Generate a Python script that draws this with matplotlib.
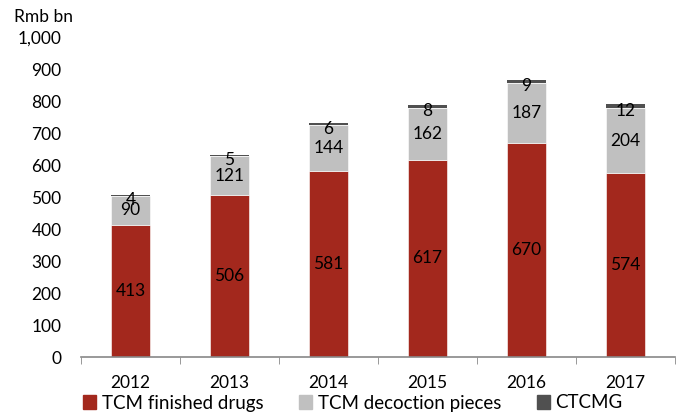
import numpy as np
import matplotlib
matplotlib.use("Agg")
import matplotlib.pyplot as plt
from matplotlib.patches import Patch

plt.rcParams['font.family'] = ['Lato', 'DejaVu Sans']

years = ['2012', '2013', '2014', '2015', '2016', '2017']
finished = [413, 506, 581, 617, 670, 574]
decoction = [90, 121, 144, 162, 187, 204]
ctcmg = [4, 5, 6, 8, 9, 12]
series_names = ['TCM finished drugs', 'TCM decoction pieces', 'CTCMG']
colors = ['#A3281D', '#C0C0C0', '#505050']

fig = plt.figure(figsize=(6.83, 4.16), dpi=100)
ax = fig.add_axes([81 / 683, 59 / 416, 594 / 683, 320 / 416])

x = np.arange(len(years))
w = 0.385
fin = np.array(finished)
dec = np.array(decoction)
ct = np.array(ctcmg)

ax.bar(x, fin, w, color=colors[0], edgecolor='white', linewidth=0.4)
ax.bar(x, dec, w, bottom=fin, color=colors[1], edgecolor='white', linewidth=0.4)
ax.bar(x, ct, w, bottom=fin + dec, color=colors[2], linewidth=0)

fs = 12.5
for i in range(len(years)):
    ax.text(x[i], fin[i] / 2, str(fin[i]), ha='center', va='center', fontsize=fs)
    ax.text(x[i], fin[i] + dec[i] / 2, str(dec[i]), ha='center', va='center', fontsize=fs)
    ax.text(x[i], fin[i] + dec[i] + ct[i] / 2 - 14, str(ct[i]), ha='center',
            va='center', fontsize=fs)

ax.set_xlim(-0.5, len(years) - 0.5)
ax.set_ylim(0, 1000)
ax.set_yticks(np.arange(0, 1001, 100))
ax.set_yticklabels([f'{v:,}' for v in range(0, 1001, 100)], fontsize=fs)
ax.set_xticks(x)
ax.set_xticklabels(years, fontsize=fs)
ax.set_xticks(np.arange(-0.5, len(years), 1), minor=True)
ax.tick_params(axis='x', which='major', length=0, pad=13)
ax.tick_params(axis='x', which='minor', length=5, color='#888888', direction='out')
ax.tick_params(axis='y', length=0, pad=14)

for s in ['top', 'right', 'left']:
    ax.spines[s].set_visible(False)
ax.spines['bottom'].set_color('#888888')
ax.spines['bottom'].set_linewidth(1.2)

fig.text(14 / 683, 1 - 17 / 416, 'Rmb bn', fontsize=fs, va='center', ha='left')

handles = [Patch(color=c) for c in colors]
fig.legend(handles, series_names, loc='center', bbox_to_anchor=(353 / 683, 1 - 403 / 416),
           ncol=3, frameon=False, fontsize=13.5, handlelength=0.7, handleheight=0.7,
           handletextpad=0.3, columnspacing=1.9)

fig.savefig('out.png', dpi=100)
